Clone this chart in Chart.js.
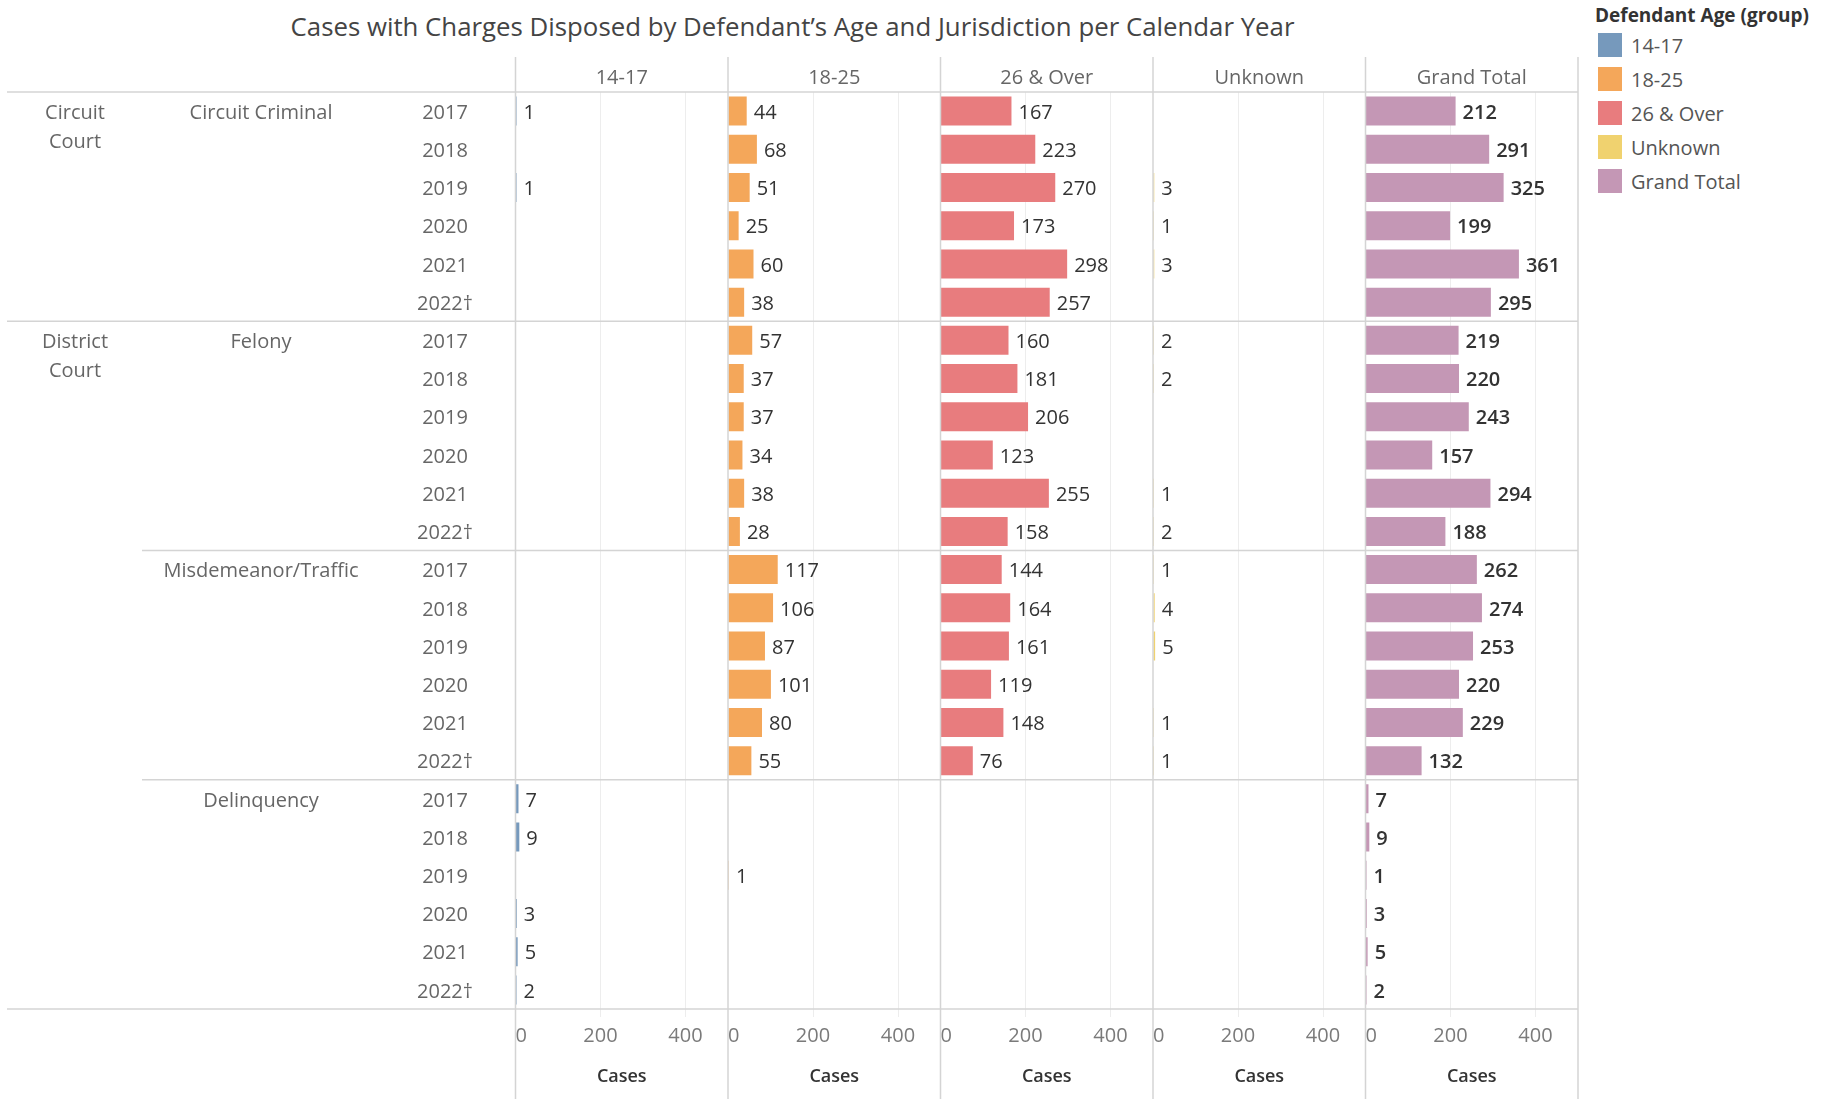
<!DOCTYPE html>
<html lang="en">
<head>
<meta charset="utf-8">
<title>Cases with Charges Disposed by Defendant's Age and Jurisdiction</title>
<script src="https://cdn.jsdelivr.net/npm/chart.js@4.4.1/dist/chart.umd.min.js"></script>
<style>
  html, body { margin: 0; padding: 0; background: #fff; }
  body { width: 1830px; height: 1099px; position: relative; overflow: hidden; font-family: 'Open Sans', sans-serif; }
  #chart { position: absolute; left: 0; top: 0; }
  .title { position: absolute; left: 0; top: 9px; width: 1585px; text-align: center; font-size: 25.8px; line-height: 34px; color: #444; }
  .legend { position: absolute; left: 1595px; top: 2px; }
  .legend-title { font-size: 19px; font-weight: 700; line-height: 26px; color: #333; }
  .legend-item { display: flex; align-items: center; height: 34px; font-size: 20px; color: #555; }
  .legend-swatch { width: 24px; height: 24px; margin: 0 9px 0 3px; }
</style>
</head>
<body>
<div class="title">Cases with Charges Disposed by Defendant’s Age and Jurisdiction per Calendar Year</div>
<div class="legend" id="legend"></div>
<canvas id="chart" width="1830" height="1099"></canvas>

<script>
// ── Data ──────────────────────────────────────────────────────

const caseTypes  = ['Circuit Criminal', 'Felony', 'Misdemeanor/Traffic', 'Delinquency'];
const caseCourts = ['Circuit Court', 'District Court', 'District Court', 'District Court'];
const years      = ['2017', '2018', '2019', '2020', '2021', '2022†'];

const ageGroups  = ['14-17', '18-25', '26 & Over', 'Unknown', 'Grand Total'];
const ageColors  = ['#7699bc', '#f4a75a', '#e87c7e', '#f0d26f', '#c497b5'];

const xTicks = [0, 200, 400];
const xMax   = 500;

// rows run caseTypes × years; null = no cases in that cell
const cases14to17 = [
  1, null, 1, null, null, null,
  null, null, null, null, null, null,
  null, null, null, null, null, null,
  7, 9, null, 3, 5, 2,
];
const cases18to25 = [
  44, 68, 51, 25, 60, 38,
  57, 37, 37, 34, 38, 28,
  117, 106, 87, 101, 80, 55,
  null, null, 1, null, null, null,
];
const cases26Over = [
  167, 223, 270, 173, 298, 257,
  160, 181, 206, 123, 255, 158,
  144, 164, 161, 119, 148, 76,
  null, null, null, null, null, null,
];
const casesUnknown = [
  null, null, 3, 1, 3, null,
  2, 2, null, null, 1, 2,
  1, 4, 5, null, 1, 1,
  null, null, null, null, null, null,
];
const casesTotal = [
  212, 291, 325, 199, 361, 295,
  219, 220, 243, 157, 294, 188,
  262, 274, 253, 220, 229, 132,
  7, 9, 1, 3, 5, 2,
];

const seriesValues = [cases14to17, cases18to25, cases26Over, casesUnknown, casesTotal];

// ── Styling ───────────────────────────────────────────────────

const FONT       = '"Open Sans", sans-serif';
const LINE_COLOR = '#d4d4d4';
const rowLabels  = caseTypes.flatMap(t => years.map(y => [t, y]));

// ── Plugins ───────────────────────────────────────────────────

// grey table rules + row headers (court / case type / year)
const tableFrame = {
  id: 'tableFrame',
  afterDraw(chart) {
    const { ctx, chartArea, scales } = chart;
    const y     = scales.y;
    const rowH  = chartArea.height / rowLabels.length;
    const top   = scales.h0.top;
    const right = chartArea.right;

    ctx.save();
    ctx.strokeStyle = LINE_COLOR;
    ctx.lineWidth   = 1.5;

    const hLine = (x0, py) => {
      ctx.beginPath(); ctx.moveTo(x0, py); ctx.lineTo(right, py); ctx.stroke();
    };
    hLine(7, chartArea.top);
    hLine(7, chartArea.bottom);
    caseTypes.forEach((t, g) => {
      if (g === 0) return;
      const py = chartArea.top + g * years.length * rowH;
      hLine(caseCourts[g] !== caseCourts[g - 1] ? 7 : 142, py);
    });

    ageGroups.forEach((_, i) => {
      const s = scales['x' + i];
      const xs = i === ageGroups.length - 1 ? [s.left, s.right] : [s.left];
      xs.forEach(px => {
        ctx.beginPath(); ctx.moveTo(px, top); ctx.lineTo(px, chart.height); ctx.stroke();
      });
    });

    ctx.font         = '20px ' + FONT;
    ctx.fillStyle    = '#666';
    ctx.textAlign    = 'center';
    ctx.textBaseline = 'middle';
    rowLabels.forEach((lab, i) => {
      const py = y.getPixelForValue(i) + 2;
      ctx.fillText(lab[1], 445, py);
      if (i % years.length !== 0) return;
      const g = i / years.length;
      ctx.fillText(lab[0], 261, py);
      if (g === 0 || caseCourts[g] !== caseCourts[g - 1]) {
        caseCourts[g].split(' ').forEach((w, k) => ctx.fillText(w, 75, py + k * 29));
      }
    });
    ctx.restore();
  },
};

// value labels to the right of each bar
const valueLabels = {
  id: 'valueLabels',
  afterDatasetsDraw(chart) {
    const { ctx } = chart;
    ctx.save();
    ctx.fillStyle    = '#333';
    ctx.textAlign    = 'left';
    ctx.textBaseline = 'middle';
    chart.data.datasets.forEach((ds, di) => {
      ctx.font = (di === ageGroups.length - 1 ? '600 ' : '') + '20px ' + FONT;
      chart.getDatasetMeta(di).data.forEach((bar, i) => {
        const v = ds.data[i];
        if (v == null) return;
        ctx.fillText(String(v), bar.x + 7, bar.y + 2);
      });
    });
    ctx.restore();
  },
};

// ── Axes ──────────────────────────────────────────────────────

function valueAxis() {
  return {
    type: 'linear', position: 'bottom', stack: 'panels',
    min: 0, max: xMax, bounds: 'data',
    afterBuildTicks: axis => { axis.ticks = [...xTicks, xMax].map(v => ({ value: v })); },
    afterFit: axis => { axis.height = 90; axis.paddingLeft = 0; axis.paddingRight = 0; },
    grid: {
      color: c => (c.tick && (c.tick.value === 0 || c.tick.value === xMax)) ? 'rgba(0,0,0,0)' : '#ededed',
      tickLength: 8,
    },
    border: { display: false },
    ticks: {
      align: 'inner', padding: 7, autoSkip: false, minRotation: 0, maxRotation: 0,
      color: '#7a7a7a', font: { family: FONT, size: 20 },
      callback: v => v === xMax ? '' : v,
    },
    title: {
      display: true, text: 'Cases', color: '#333',
      font: { family: FONT, size: 18, weight: '600' },
      padding: { top: 4, bottom: 11 },
    },
  };
}

function headerAxis(label) {
  return {
    type: 'linear', position: 'top', stack: 'headers', min: 0, max: 1,
    afterFit: axis => { axis.height = 35; axis.paddingLeft = 0; axis.paddingRight = 0; },
    grid: { display: false },
    border: { display: false },
    ticks: { display: false },
    title: {
      display: true, text: label, color: '#666',
      font: { family: FONT, size: 20 },
      padding: { top: 9, bottom: 0 },
    },
  };
}

const scales = { y: { type: 'category', display: false } };
ageGroups.forEach((g, i) => { scales['x' + i] = valueAxis(); });
// top boxes are laid out in reverse insertion order
ageGroups.slice().reverse().forEach((g, k) => {
  scales['h' + (ageGroups.length - 1 - k)] = headerAxis(g);
});

// ── Chart ─────────────────────────────────────────────────────

new Chart(document.getElementById('chart'), {
  type: 'bar',
  data: {
    labels: rowLabels,
    datasets: ageGroups.map((g, i) => ({
      label: g,
      data: seriesValues[i],
      xAxisID: 'x' + i,
      backgroundColor: ageColors[i],
      grouped: false,
      categoryPercentage: 1,
      barPercentage: 0.76,
      minBarLength: 1,
    })),
  },
  options: {
    indexAxis: 'y',
    responsive: false,
    animation: false,
    devicePixelRatio: 1,
    layout: { padding: { left: 515.5, right: 252, top: 57, bottom: 0 } },
    plugins: { legend: { display: false }, tooltip: { enabled: false } },
    scales,
  },
  plugins: [valueLabels, tableFrame],
});

// ── Legend ────────────────────────────────────────────────────

document.getElementById('legend').innerHTML = `
  <div class="legend-title">Defendant Age (group)</div>
  ${ageGroups.map((g, i) => `
    <div class="legend-item">
      <span class="legend-swatch" style="background:${ageColors[i]}"></span>${g}
    </div>`).join('')}
`;
</script>
</body>
</html>
